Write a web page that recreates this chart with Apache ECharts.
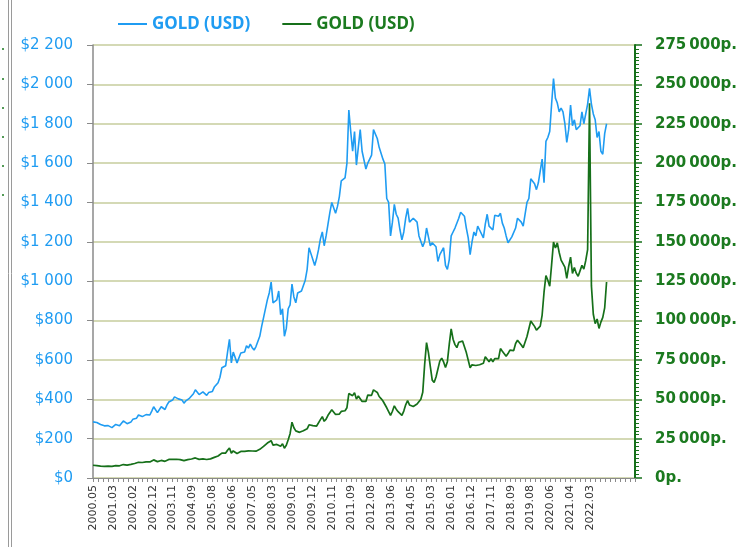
<!DOCTYPE html>
<html>
<head>
<meta charset="utf-8">
<script src="https://cdn.jsdelivr.net/npm/echarts@6/dist/echarts.min.js"></script>
<style>
  html, body { margin: 0; padding: 0; background: #ffffff; }
  #chart { width: 745px; height: 547px; }
</style>
</head>
<body>
<div id="chart"></div>
<script>
// Monthly gold price, May 2000 – Dec 2022
const startYear = 2000;
const startMonth = 5;
const monthCount = 287; // axis runs a little past the last data point

// Gold, USD per troy ounce
const usdValues = [
  285, 288, 282, 276, 272, 270, 265, 272,
  266, 262, 256, 260, 272, 270, 266, 274, 290, 282, 276, 278,
  284, 298, 296, 304, 320, 322, 312, 310, 322, 316, 320, 340,
  362, 356, 332, 330, 362, 352, 348, 370, 386, 382, 396, 412,
  414, 402, 410, 396, 380, 392, 402, 406, 412, 428, 448, 440,
  424, 428, 438, 428, 420, 434, 424, 440, 462, 470, 484, 512,
  560, 556, 570, 640, 705, 585, 640, 630, 585, 590, 635, 628,
  640, 672, 660, 680, 662, 650, 668, 660, 720, 770, 815, 805,
  905, 940, 995, 890, 880, 905, 950, 830, 860, 720, 760, 860,
  880, 985, 920, 890, 940, 935, 950, 950, 1005, 1060, 1170, 1140,
  1110, 1080, 1115, 1160, 1215, 1250, 1180, 1230, 1290, 1350, 1400, 1400,
  1345, 1380, 1430, 1510, 1500, 1525, 1600, 1870, 1760, 1660, 1760, 1590,
  1680, 1770, 1660, 1650, 1570, 1600, 1610, 1640, 1770, 1775, 1725, 1680,
  1670, 1620, 1595, 1420, 1400, 1230, 1300, 1390, 1340, 1320, 1260, 1210,
  1250, 1320, 1370, 1300, 1290, 1320, 1320, 1300, 1230, 1225, 1175, 1200,
  1270, 1225, 1180, 1195, 1200, 1175, 1100, 1135, 1140, 1170, 1080, 1060,
  1110, 1230, 1250, 1270, 1260, 1320, 1350, 1340, 1330, 1270, 1220, 1135,
  1200, 1250, 1230, 1280, 1260, 1250, 1220, 1290, 1340, 1280, 1285, 1260,
  1335, 1345, 1330, 1345, 1295, 1270, 1230, 1195, 1200, 1225, 1225, 1270,
  1320, 1330, 1300, 1280, 1280, 1400, 1420, 1520, 1510, 1495, 1465, 1500,
  1560, 1620, 1500, 1710, 1730, 1760, 1900, 2030, 1930, 1905, 1860, 1880,
  1860, 1800, 1705, 1770, 1895, 1790, 1820, 1770, 1760, 1790, 1860, 1800,
  1800, 1900, 1980, 1900, 1850, 1820, 1730, 1760, 1660, 1645, 1750, 1800
];

// Gold, roubles per troy ounce
const rubValues = [
  8100, 8150, 7850, 7650, 7550, 7500, 7350, 7600,
  7550, 7500, 7350, 7500, 7900, 7850, 7750, 8050, 8550, 8300, 8200, 8350,
  8650, 9200, 9200, 9450, 10000, 10100, 9850, 9800, 10200, 10000, 10200, 10800,
  11500, 11250, 10400, 10300, 11150, 10700, 10600, 11250, 11800, 11450, 11800, 12100,
  11900, 11450, 11700, 11350, 11000, 11350, 11700, 11850, 12050, 12350, 12750, 12300,
  11850, 11950, 12100, 11900, 11750, 12400, 12150, 12550, 13100, 13450, 13950, 14750,
  15800, 15600, 15850, 17650, 19100, 15800, 17200, 16900, 15600, 15800, 16900, 16600,
  16950, 17600, 17250, 17600, 17150, 16850, 17050, 16900, 18200, 19150, 20050, 19700,
  22200, 23000, 23700, 20900, 20850, 21350, 22250, 20100, 21750, 18950, 20750, 24350,
  28150, 35450, 31900, 29900, 29900, 29000, 29950, 30000, 31150, 31250, 33800, 34300,
  33300, 32400, 33000, 33850, 37050, 39000, 36000, 37400, 39850, 41050, 43400, 43000,
  40350, 40000, 40600, 42300, 41850, 42700, 44650, 53650, 54550, 52300, 54200, 50100,
  52100, 52400, 48650, 48700, 48650, 52650, 52150, 52500, 55950, 55200, 54350, 51750,
  50450, 48900, 49150, 44600, 43800, 39750, 42400, 45850, 43700, 42100, 41100, 39800,
  42500, 46450, 49200, 46400, 45150, 45400, 45650, 46950, 46600, 50000, 54400, 72000,
  86000, 79600, 70800, 62150, 60700, 64150, 62900, 74250, 76150, 73700, 70200, 73900,
  85050, 94700, 88150, 84700, 82800, 86200, 86950, 86950, 85900, 79650, 78450, 70050,
  71900, 73000, 71450, 72200, 71950, 72400, 72850, 77000, 77300, 73850, 75700, 73850,
  75850, 76400, 75800, 82200, 80550, 79650, 77350, 79000, 81250, 80600, 80950, 85450,
  87500, 87500, 84500, 82700, 83200, 89900, 89750, 99700, 98000, 96300, 93900, 94350,
  96400, 103500, 118000, 128600, 125600, 121800, 135500, 149800, 146100, 149350, 143200, 138400,
  138200, 133900, 126850, 134350, 140250, 129950, 133750, 130100, 128150, 127800, 135050, 132650,
  138050, 145000, 238000, 122000, 104000, 98000, 101000, 95000, 99000, 102000, 108000, 124500
];

// Date labels printed under the horizontal axis
const tickLabels = [
  '2000.05', '2001.03', '2002.02', '2002.12', '2003.11', '2004.09', '2005.08',
  '2006.06', '2007.05', '2008.03', '2009.01', '2009.12', '2010.11', '2011.09',
  '2012.08', '2013.06', '2014.05', '2015.03', '2016.01', '2016.12', '2017.11',
  '2018.09', '2019.08', '2020.06', '2021.04', '2022.03'
];

const legendLabels = ['GOLD (USD)', 'GOLD (USD)'];

const BLUE = '#1f9cf2';
const GREEN = '#16701a';
const GREEN_TEXT = '#1b7a1f';

// month categories for the data axis
const months = [];
for (let i = 0; i < monthCount; i++) {
  const m0 = startMonth - 1 + i;
  const y = startYear + Math.floor(m0 / 12);
  const m = (m0 % 12) + 1;
  months.push(y + '.' + String(m).padStart(2, '0'));
}

// tick axis: four minor steps between printed labels, then a short tail
const tickCats = [];
tickLabels.forEach(l => { tickCats.push(l, '', '', ''); });
while (tickCats.length < 110) tickCats.push('');

function groupDigits(v, sep) {
  return String(Math.round(v)).replace(/\B(?=(\d{3})+(?!\d))/g, sep);
}

const chart = echarts.init(document.getElementById('chart'), null, { renderer: 'canvas' });

chart.setOption({
  animation: false,
  backgroundColor: '#ffffff',
  grid: { left: 93, right: 110, top: 45, bottom: 69, containLabel: false },
  legend: {
    left: 118,
    top: 15,
    padding: 0,
    icon: 'rect',
    itemWidth: 29,
    itemHeight: 2,
    itemGap: 32,
    data: [
      { name: 'gold_usd', textStyle: { color: BLUE } },
      { name: 'gold_rub', textStyle: { color: GREEN_TEXT } }
    ],
    formatter: name => (name === 'gold_usd' ? legendLabels[0] : legendLabels[1]),
    textStyle: { fontFamily: 'Noto Sans', fontWeight: 'bold', fontSize: 17, lineHeight: 18 }
  },
  xAxis: [
    {
      type: 'category',
      data: tickCats,
      boundaryGap: false,
      axisLine: { lineStyle: { color: '#8a8a8a', width: 1 } },
      axisTick: { interval: 0, length: 4, lineStyle: { color: '#8a8a8a' } },
      axisLabel: {
        interval: 0,
        rotate: 90,
        margin: 7,
        color: '#333333',
        fontFamily: 'DejaVu Sans',
        fontSize: 11
      },
      splitLine: { show: false }
    },
    {
      type: 'category',
      data: months,
      boundaryGap: false,
      show: false
    }
  ],
  yAxis: [
    {
      type: 'value',
      min: 0,
      max: 2200,
      interval: 200,
      position: 'left',
      axisLine: { show: true, lineStyle: { color: '#8a8a8a', width: 1.5 } },
      axisTick: { show: true, length: 6, lineStyle: { color: '#8a8a8a' } },
      axisLabel: {
        margin: 20,
        color: BLUE,
        fontFamily: 'DejaVu Sans',
        fontSize: 15,
        formatter: v => '$' + groupDigits(v, '\u00a0')
      },
      splitLine: { show: true, lineStyle: { color: '#c6cc9c', width: 1.5 } }
    },
    {
      type: 'value',
      min: 0,
      max: 275000,
      interval: 25000,
      position: 'right',
      axisLine: { show: true, lineStyle: { color: GREEN, width: 2 } },
      axisTick: { show: true, length: 7, lineStyle: { color: GREEN, width: 1.5 } },
      minorTick: { show: true, splitNumber: 10, length: 4, lineStyle: { color: GREEN } },
      axisLabel: {
        margin: 20,
        color: GREEN_TEXT,
        fontFamily: 'DejaVu Sans',
        fontWeight: 'bold',
        fontSize: 15,
        formatter: v => groupDigits(v, '\u2009') + 'р.'
      },
      splitLine: { show: false }
    }
  ],
  series: [
    {
      name: 'gold_usd',
      type: 'line',
      xAxisIndex: 1,
      yAxisIndex: 0,
      data: usdValues,
      symbol: 'none',
      showSymbol: false,
      lineStyle: { color: BLUE, width: 1.6 },
      itemStyle: { color: BLUE },
      z: 3
    },
    {
      name: 'gold_rub',
      type: 'line',
      xAxisIndex: 1,
      yAxisIndex: 1,
      data: rubValues,
      symbol: 'none',
      showSymbol: false,
      lineStyle: { color: GREEN, width: 1.7 },
      itemStyle: { color: GREEN },
      z: 4
    }
  ],
  graphic: [
    // frame edge on the far left
    { type: 'line', shape: { x1: 8.5, y1: 0, x2: 8.5, y2: 547 }, style: { stroke: '#9a9a9a', lineWidth: 1 } },
    { type: 'line', shape: { x1: 11.5, y1: 0, x2: 11.5, y2: 547 }, style: { stroke: '#9a9a9a', lineWidth: 1 } },
    { type: 'circle', shape: { cx: 3, cy: 49, r: 1 }, style: { fill: GREEN_TEXT } },
    { type: 'circle', shape: { cx: 3, cy: 79, r: 1 }, style: { fill: GREEN_TEXT } },
    { type: 'circle', shape: { cx: 3, cy: 108, r: 1 }, style: { fill: GREEN_TEXT } },
    { type: 'circle', shape: { cx: 3, cy: 137, r: 1 }, style: { fill: GREEN_TEXT } },
    { type: 'circle', shape: { cx: 3, cy: 166, r: 1 }, style: { fill: GREEN_TEXT } },
    { type: 'circle', shape: { cx: 3, cy: 195, r: 1 }, style: { fill: GREEN_TEXT } }
  ]
});
</script>
</body>
</html>
